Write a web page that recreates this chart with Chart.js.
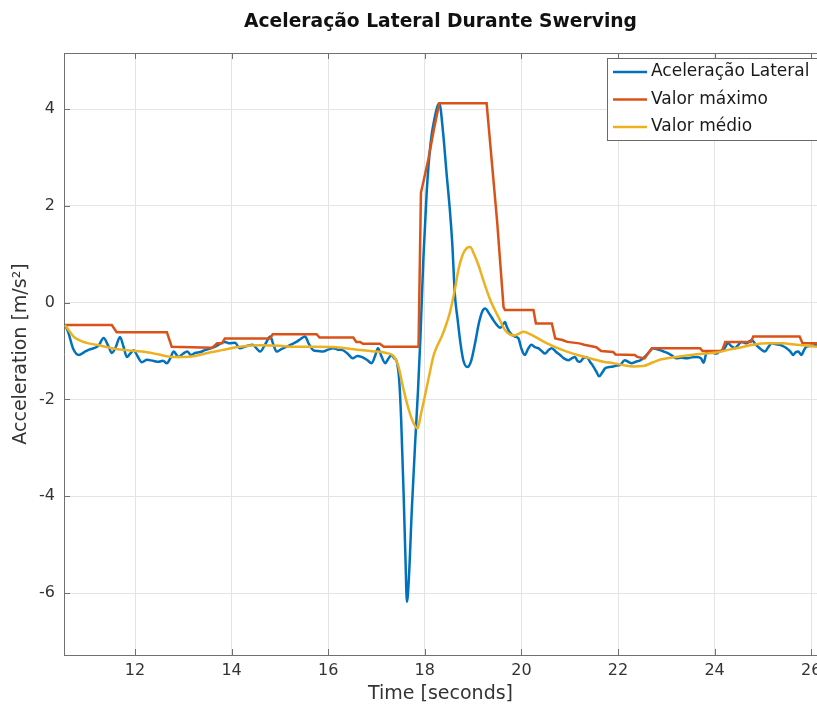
<!DOCTYPE html>
<html>
<head>
<meta charset="utf-8">
<title>Aceleração Lateral Durante Swerving</title>
<script src="https://cdn.jsdelivr.net/npm/chart.js@4.4.0/dist/chart.umd.min.js"></script>
<style>
	html, body { margin: 0; padding: 0; background: #fff; }
</style>
</head>
<body>
<canvas id="accelChart" width="817" height="708"></canvas>
<script>
// series (time in s, acceleration in m/s^2)
const tLateral = [10.55, 10.62, 10.72, 10.84, 10.95, 11.05, 11.15, 11.25, 11.35, 11.45, 11.52, 11.60, 11.69, 11.76, 11.83, 11.90, 11.97, 12.05, 12.14, 12.25, 12.37, 12.49, 12.58, 12.66, 12.73, 12.80, 12.90, 13.00, 13.08, 13.16, 13.24, 13.35, 13.45, 13.55, 13.66, 13.76, 13.86, 13.96, 14.07, 14.17, 14.30, 14.44, 14.52, 14.59, 14.70, 14.80, 14.87, 14.93, 15.03, 15.14, 15.24, 15.34, 15.43, 15.52, 15.60, 15.69, 15.79, 15.89, 16.00, 16.10, 16.20, 16.30, 16.40, 16.51, 16.60, 16.69, 16.80, 16.90, 16.97, 17.03, 17.10, 17.18, 17.25, 17.31, 17.37, 17.42, 17.47, 17.51, 17.56, 17.60, 17.63, 17.67, 17.73, 17.80, 17.86, 17.91, 17.97, 18.04, 18.12, 18.20, 18.30, 18.38, 18.45, 18.52, 18.57, 18.62, 18.68, 18.74, 18.80, 18.88, 18.96, 19.04, 19.12, 19.19, 19.25, 19.33, 19.42, 19.50, 19.56, 19.62, 19.66, 19.70, 19.74, 19.80, 19.87, 19.94, 20.00, 20.07, 20.14, 20.21, 20.28, 20.35, 20.42, 20.49, 20.56, 20.63, 20.72, 20.80, 20.88, 20.97, 21.04, 21.11, 21.16, 21.21, 21.28, 21.35, 21.42, 21.49, 21.55, 21.61, 21.67, 21.73, 21.82, 21.90, 21.97, 22.04, 22.14, 22.21, 22.28, 22.37, 22.46, 22.52, 22.59, 22.66, 22.73, 22.80, 22.87, 22.95, 23.05, 23.13, 23.21, 23.31, 23.42, 23.52, 23.63, 23.72, 23.77, 23.84, 23.94, 24.04, 24.11, 24.18, 24.28, 24.35, 24.42, 24.49, 24.56, 24.66, 24.72, 24.77, 24.84, 24.90, 24.97, 25.04, 25.11, 25.18, 25.27, 25.35, 25.42, 25.49, 25.56, 25.63, 25.68, 25.73, 25.80, 25.85, 25.90, 26.00, 26.12]
const accLateral = [-0.45, -0.62, -0.95, -1.08, -1.02, -0.97, -0.94, -0.88, -0.73, -0.90, -1.04, -0.92, -0.71, -0.90, -1.12, -1.05, -0.98, -1.10, -1.23, -1.18, -1.20, -1.22, -1.20, -1.25, -1.15, -1.01, -1.12, -1.05, -1.01, -1.08, -1.04, -1.02, -0.98, -0.95, -0.91, -0.85, -0.81, -0.84, -0.83, -0.94, -0.90, -0.87, -0.95, -1.01, -0.85, -0.70, -0.88, -1.01, -0.96, -0.91, -0.86, -0.81, -0.75, -0.70, -0.85, -0.98, -1.00, -1.01, -0.97, -0.94, -0.97, -0.98, -1.05, -1.15, -1.10, -1.12, -1.18, -1.25, -1.10, -0.94, -1.10, -1.25, -1.15, -1.08, -1.15, -1.22, -1.60, -2.40, -3.90, -5.30, -6.18, -5.70, -4.30, -2.90, -1.80, -0.70, 0.90, 2.30, 3.30, 3.80, 4.12, 3.50, 2.68, 1.90, 1.20, 0.20, -0.35, -0.85, -1.20, -1.33, -1.20, -0.84, -0.42, -0.18, -0.12, -0.22, -0.36, -0.47, -0.52, -0.45, -0.40, -0.50, -0.58, -0.66, -0.70, -0.74, -0.95, -1.08, -0.95, -0.87, -0.92, -0.94, -1.00, -1.05, -0.98, -0.94, -1.02, -1.08, -1.15, -1.19, -1.15, -1.12, -1.20, -1.22, -1.15, -1.12, -1.22, -1.32, -1.42, -1.52, -1.45, -1.36, -1.33, -1.32, -1.30, -1.29, -1.19, -1.22, -1.25, -1.22, -1.19, -1.15, -1.08, -1.00, -0.94, -0.96, -0.98, -1.01, -1.05, -1.10, -1.15, -1.14, -1.15, -1.13, -1.12, -1.15, -1.24, -1.02, -1.03, -1.05, -1.00, -0.98, -0.84, -0.90, -0.94, -0.87, -0.81, -0.84, -0.80, -0.77, -0.85, -0.91, -0.97, -1.01, -0.92, -0.84, -0.86, -0.87, -0.90, -0.94, -1.00, -1.08, -1.02, -1.01, -1.08, -0.98, -0.91, -0.89, -0.87]

const tMax = [10.55, 11.52, 11.62, 12.66, 12.76, 13.60, 13.70, 13.80, 13.86, 14.80, 14.85, 15.76, 15.82, 16.52, 16.58, 16.66, 16.72, 17.07, 17.15, 17.87, 17.92, 18.07, 18.20, 18.30, 19.28, 19.50, 19.63, 19.66, 20.25, 20.30, 20.63, 20.70, 20.85, 20.95, 21.20, 21.30, 21.55, 21.65, 21.90, 21.95, 22.35, 22.40, 22.55, 22.70, 23.70, 23.75, 24.15, 24.22, 24.75, 24.80, 25.76, 25.82, 26.12]
const accMax = [-0.46, -0.46, -0.61, -0.61, -0.91, -0.93, -0.84, -0.84, -0.74, -0.74, -0.65, -0.65, -0.72, -0.72, -0.81, -0.81, -0.85, -0.85, -0.91, -0.91, 2.27, 2.95, 3.64, 4.12, 4.12, 1.65, -0.09, -0.15, -0.15, -0.43, -0.43, -0.74, -0.77, -0.81, -0.84, -0.87, -0.92, -1.00, -1.02, -1.07, -1.08, -1.12, -1.15, -0.94, -0.94, -1.00, -1.00, -0.81, -0.81, -0.70, -0.70, -0.84, -0.84]

const tMean = [10.55, 10.65, 10.75, 10.90, 11.00, 11.25, 11.52, 11.80, 12.14, 12.45, 12.77, 13.00, 13.25, 13.50, 13.80, 14.17, 14.60, 15.00, 15.27, 15.70, 16.17, 16.60, 17.00, 17.20, 17.35, 17.45, 17.55, 17.65, 17.75, 17.85, 17.92, 18.00, 18.10, 18.18, 18.25, 18.35, 18.45, 18.52, 18.62, 18.70, 18.78, 18.87, 18.94, 19.02, 19.11, 19.20, 19.28, 19.37, 19.45, 19.55, 19.65, 19.75, 19.85, 19.95, 20.04, 20.20, 20.45, 20.70, 20.94, 21.20, 21.42, 21.70, 21.90, 22.10, 22.32, 22.52, 22.73, 22.90, 23.20, 23.50, 23.80, 24.04, 24.30, 24.56, 24.80, 25.10, 25.40, 25.70, 26.12]
const accMean = [-0.46, -0.60, -0.72, -0.80, -0.83, -0.88, -0.94, -0.98, -1.01, -1.06, -1.12, -1.12, -1.10, -1.04, -0.98, -0.91, -0.88, -0.89, -0.91, -0.91, -0.92, -0.97, -1.01, -1.04, -1.10, -1.30, -1.75, -2.15, -2.45, -2.60, -2.30, -1.94, -1.46, -1.10, -0.91, -0.70, -0.43, -0.20, 0.26, 0.70, 0.98, 1.13, 1.15, 1.00, 0.78, 0.50, 0.26, 0.02, -0.15, -0.35, -0.55, -0.65, -0.68, -0.64, -0.60, -0.66, -0.80, -0.92, -1.01, -1.09, -1.15, -1.22, -1.25, -1.29, -1.32, -1.31, -1.23, -1.17, -1.12, -1.08, -1.05, -1.03, -0.97, -0.92, -0.87, -0.84, -0.84, -0.87, -0.91]

const seriesNames = ['Aceleração Lateral', 'Valor máximo', 'Valor médio']
const seriesColors = ['#0072BD', '#D95319', '#EDB120']
const xTicks = [12, 14, 16, 18, 20, 22, 24, 26]
const yTicks = [-6, -4, -2, 0, 2, 4]

const FONT = '"DejaVu Sans", sans-serif'
const TEXT = '#333333'
const AXIS = '#707070'
const GRID = '#e4e4e4'

const toPoints = (ts, vs) => ts.map((t, i) => ({ x: t, y: vs[i] }))

// title, box edge, inward ticks and legend drawn like the MATLAB figure
const matlabFrame = {
	id: 'matlabFrame',
	afterDraw(chart) {
		const { ctx, chartArea: a, scales } = chart
		ctx.save()

		ctx.strokeStyle = AXIS
		ctx.lineWidth = 1
		ctx.beginPath()
		ctx.moveTo(a.left, a.top + 0.5)
		ctx.lineTo(a.right + 2, a.top + 0.5)
		scales.x.ticks.forEach((t) => {
			const x = Math.round(scales.x.getPixelForValue(t.value)) + 0.5
			ctx.moveTo(x, a.bottom)
			ctx.lineTo(x, a.bottom - 6)
			ctx.moveTo(x, a.top)
			ctx.lineTo(x, a.top + 6)
		})
		scales.y.ticks.forEach((t) => {
			const y = Math.round(scales.y.getPixelForValue(t.value)) + 0.5
			ctx.moveTo(a.left, y)
			ctx.lineTo(a.left + 6, y)
		})
		ctx.stroke()

		// title
		ctx.fillStyle = '#111111'
		ctx.font = 'bold 18.7px ' + FONT
		ctx.textAlign = 'center'
		ctx.textBaseline = 'middle'
		ctx.fillText('Aceleração Lateral Durante Swerving', (a.left + a.right) / 2, 22)

		// legend box
		const lx = 607.5
		const ly = 58.5
		ctx.fillStyle = '#ffffff'
		ctx.fillRect(lx, ly, 240, 82)
		ctx.strokeStyle = '#6a6a6a'
		ctx.strokeRect(lx, ly, 240, 82)
		ctx.font = '17px ' + FONT
		ctx.textAlign = 'left'
		seriesNames.forEach((name, i) => {
			const y = 72 + i * 27.5
			ctx.strokeStyle = seriesColors[i]
			ctx.lineWidth = 2.5
			ctx.beginPath()
			ctx.moveTo(613, y)
			ctx.lineTo(647, y)
			ctx.stroke()
			ctx.fillStyle = '#1a1a1a'
			ctx.fillText(name, 651, y)
		})
		ctx.restore()
	},
}

const ctx = document.getElementById('accelChart').getContext('2d')
const accelChart = new Chart(ctx, {
	type: 'line',
	data: {
		datasets: [
			{
				label: seriesNames[0],
				data: toPoints(tLateral, accLateral),
				borderColor: seriesColors[0],
				borderWidth: 2.5,
				cubicInterpolationMode: 'monotone',
				order: 3,
			},
			{
				label: seriesNames[1],
				data: toPoints(tMax, accMax),
				borderColor: seriesColors[1],
				borderWidth: 2.5,
				tension: 0,
				order: 2,
			},
			{
				label: seriesNames[2],
				data: toPoints(tMean, accMean),
				borderColor: seriesColors[2],
				borderWidth: 2.5,
				cubicInterpolationMode: 'monotone',
				order: 1,
			},
		],
	},
	options: {
		responsive: false,
		animation: false,
		events: [],
		layout: { padding: { top: 53, right: 0, left: 0, bottom: 0 } },
		elements: { point: { radius: 0 } },
		plugins: {
			legend: { display: false },
			title: { display: false },
			tooltip: { enabled: false },
		},
		scales: {
			x: {
				type: 'linear',
				min: 10.53,
				max: 26.12,
				afterBuildTicks: (s) => { s.ticks = xTicks.map((v) => ({ value: v })) },
				afterFit: (s) => {
					s.height = 53
					s.paddingLeft = 0
					s.paddingRight = 0
				},
				grid: { color: GRID, drawTicks: false },
				border: { color: AXIS },
				ticks: { padding: 6, color: TEXT, font: { family: FONT, size: 16 }, maxRotation: 0 },
				title: {
					display: true,
					text: 'Time [seconds]',
					color: TEXT,
					font: { family: FONT, size: 19 },
					padding: { top: 0, bottom: 3 },
				},
			},
			y: {
				type: 'linear',
				min: -7.28,
				max: 5.16,
				afterBuildTicks: (s) => { s.ticks = yTicks.map((v) => ({ value: v })) },
				afterFit: (s) => { s.width = 64 },
				grid: { color: GRID, drawTicks: false },
				border: { color: AXIS },
				ticks: { padding: 9, color: TEXT, font: { family: FONT, size: 16 } },
				title: {
					display: true,
					text: 'Acceleration [m/s²]',
					color: TEXT,
					font: { family: FONT, size: 19 },
					padding: { top: 10, bottom: 0 },
				},
			},
		},
	},
	plugins: [matlabFrame],
})
</script>
</body>
</html>
